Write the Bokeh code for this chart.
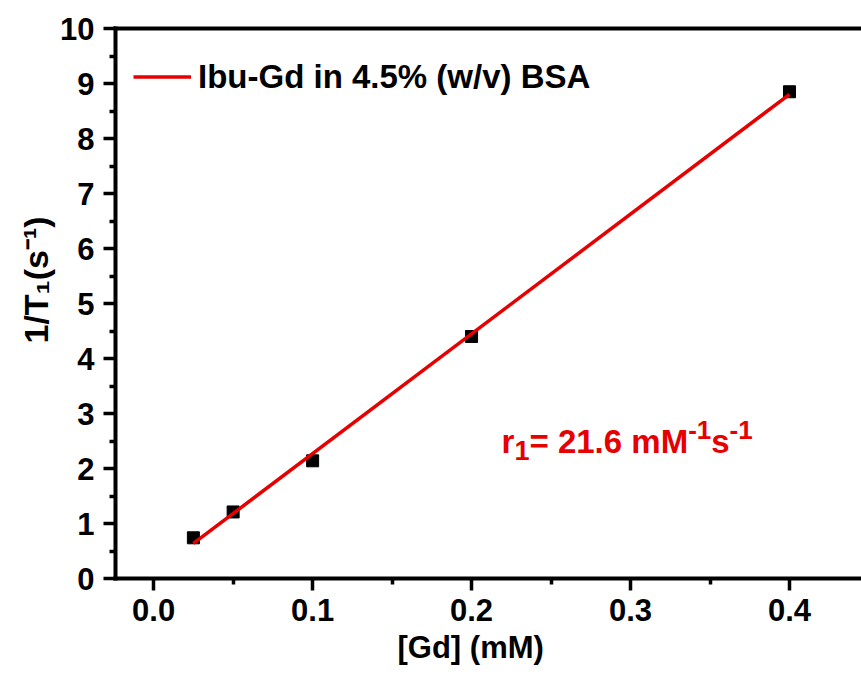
import numpy as np
from bokeh.plotting import figure
from bokeh.models import (LinearAxis, FixedTicker, PrintfTickFormatter, Label,
                          Legend, LegendItem, Range1d, Title)
from bokeh.embed import file_html
from bokeh.resources import INLINE

# ---- data ----
gd_mM = [0.025, 0.05, 0.1, 0.2, 0.4]
inv_T1 = [0.74, 1.21, 2.14, 4.40, 8.85]
x_ticks = [0.0, 0.1, 0.2, 0.3, 0.4]
x_minor = [0.05, 0.15, 0.25, 0.35]
y_ticks = [0, 1, 2, 3, 4, 5, 6, 7, 8, 9, 10]
y_minor = [0.5, 1.5, 2.5, 3.5, 4.5, 5.5, 6.5, 7.5, 8.5, 9.5]
series_label = "Ibu-Gd in 4.5% (w/v) BSA"
x_title = "[Gd] (mM)"
y_title = "1/T\u2081(s\u207b\u00b9)"
relaxivity_text = "21.6"

# linear fit through the measured points
slope, intercept = np.polyfit(gd_mM, inv_T1, 1)
fit_x = [gd_mM[0], gd_mM[-1]]
fit_y = [slope * v + intercept for v in fit_x]

FONT = "Liberation Sans"
RED = "#e60000"

# Arial/Liberation Sans Bold advance widths (em)
W = {'r': .389, '1': .556, '=': .584, ' ': .278, '2': .556, '.': .278, '6': .556,
     'm': .889, 'M': .833, '-': .333, 's': .556}


def tw(s, size):
    return sum(W.get(c, .556) for c in s) * size


p = figure(width=861, height=675, output_backend="svg", toolbar_location=None,
           x_range=Range1d(-0.024, 0.4453), y_range=Range1d(0, 10),
           min_border_left=115, min_border_right=0, min_border_top=28,
           min_border_bottom=97)
p.outline_line_color = None
p.grid.visible = False
p.background_fill_color = "white"
p.border_fill_color = "white"

xax = p.xaxis[0]
yax = p.yaxis[0]

for ax in (xax, yax):
    ax.axis_line_width = 4
    ax.axis_line_cap = "square"
    ax.major_tick_line_width = 3.5
    ax.minor_tick_line_width = 3.5
    ax.major_tick_in = 0
    ax.major_tick_out = 12
    ax.minor_tick_in = 0
    ax.minor_tick_out = 6
    ax.major_label_text_font = FONT
    ax.major_label_text_font_style = "bold"
    ax.major_label_text_font_size = "31px"
    ax.major_label_text_color = "black"

xax.ticker = FixedTicker(ticks=x_ticks, minor_ticks=x_minor)
xax.formatter = PrintfTickFormatter(format="%.1f")
xax.major_label_standoff = 8
yax.ticker = FixedTicker(ticks=y_ticks, minor_ticks=y_minor)
yax.major_label_standoff = 9

# top frame line (no ticks, no labels)
top_axis = LinearAxis(ticker=FixedTicker(ticks=[], minor_ticks=[]),
                      major_label_text_font_size="0px",
                      major_tick_out=0, major_tick_in=0,
                      minor_tick_out=0, minor_tick_in=0,
                      axis_line_width=4, axis_line_cap="square")
p.add_layout(top_axis, "above")

# axis titles as side-panel titles
p.add_layout(Title(text=x_title, align="left", offset=282, standoff=8,
                   text_font=FONT, text_font_style="bold",
                   text_font_size="31px", text_color="black"), "below")
p.add_layout(Title(text=y_title, align="left", offset=235, standoff=6,
                   text_font=FONT, text_font_style="bold",
                   text_font_size="34px", text_color="black"), "left")

# data
p.scatter(gd_mM, inv_T1, marker="square", size=12, color="black")
fit_r = p.line(fit_x, fit_y, line_color=RED, line_width=3.5)

legend = Legend(items=[LegendItem(label=series_label, renderers=[fit_r])],
                location="top_left", margin=18, padding=10,
                glyph_width=58, glyph_height=61, label_height=61,
                label_standoff=7, border_line_color=None,
                background_fill_alpha=0,
                label_text_font=FONT, label_text_font_style="bold",
                label_text_font_size="33px", label_text_color="black")
p.add_layout(legend)

# relaxivity annotation r1 = 21.6 mM^-1 s^-1
pieces = [("r", 33, 0), ("1", 27, -9), ("= " + relaxivity_text + " mM", 33, 0),
          ("-1", 26, 11), ("s", 33, 0), ("-1", 26, 11)]
cum = 0.0
for text, size, shift in pieces:
    p.add_layout(Label(x=0.2189, y=2.5, x_offset=cum, y_offset=shift, text=text,
                       text_font=FONT, text_font_style="bold",
                       text_font_size=f"{size}px", text_color=RED,
                       text_align="left", text_baseline="alphabetic"))
    cum += tw(text, size)

open("out.html", "w").write(file_html(p, INLINE))
